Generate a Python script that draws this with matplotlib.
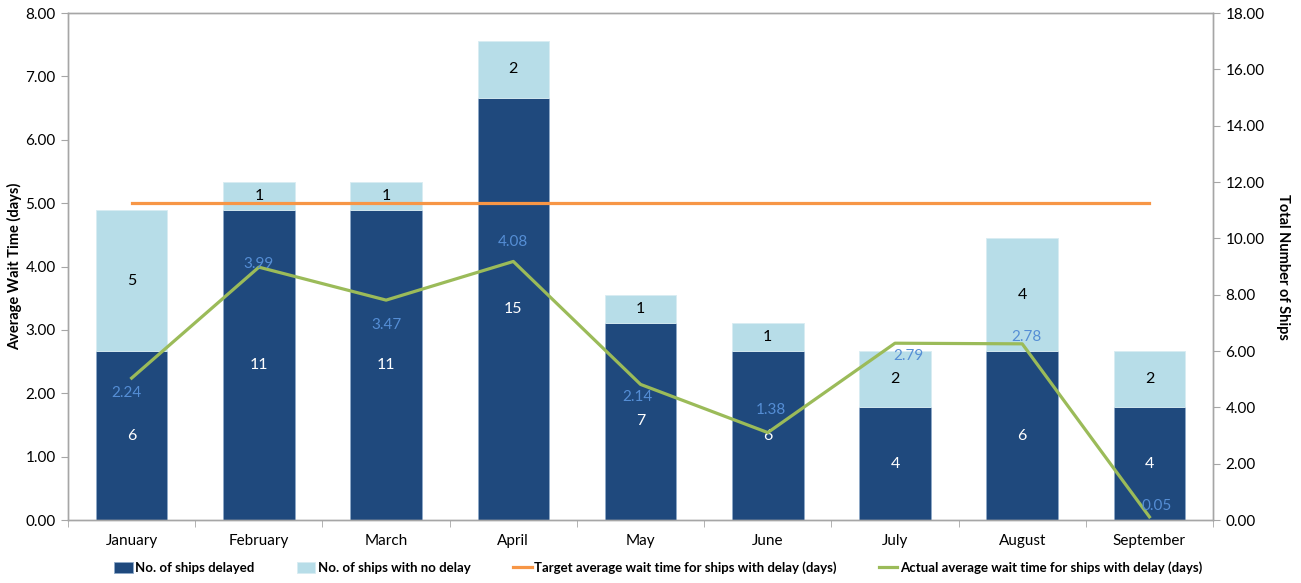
import numpy as np
import matplotlib.pyplot as plt

plt.rcParams['font.family'] = ['Lato', 'DejaVu Sans']

months = ['January', 'February', 'March', 'April', 'May', 'June', 'July',
          'August', 'September']
ships_delayed = [6, 11, 11, 15, 7, 6, 4, 6, 4]
ships_no_delay = [5, 1, 1, 2, 1, 1, 2, 4, 2]
actual_wait = [2.24, 3.99, 3.47, 4.08, 2.14, 1.38, 2.79, 2.78, 0.05]
target_wait = [5.0] * len(months)

# offsets (points) for the actual wait time labels
label_offsets = [(-4, -11), (0, 2), (0, -18), (0, 14), (-2, -9), (2, 16),
                 (10, -9), (3, 5), (5, 8)]

dark_blue = '#1f497d'
light_blue = '#b7dde8'
orange = '#f79646'
green = '#9bbb59'
label_blue = '#558ed5'
spine_grey = '#a6a6a6'

fig = plt.figure(figsize=(13.01, 5.83), dpi=100)
ax_bar = fig.add_axes([0.0523, 0.108, 0.8801, 0.8697])
ax_line = ax_bar.twinx()

x = np.arange(len(months))
width = 0.5625

b1 = ax_bar.bar(x, ships_delayed, width, color=dark_blue, edgecolor='#8eaac8',
                linewidth=0.6, label='No. of ships delayed')
b2 = ax_bar.bar(x, ships_no_delay, width, bottom=ships_delayed, color=light_blue,
                edgecolor='#d8ecf2', linewidth=0.6, label='No. of ships with no delay')
ax_bar.bar_label(b1, label_type='center', color='white', fontsize=11.5)
ax_bar.bar_label(b2, label_type='center', color='black', fontsize=11.5)

l1, = ax_line.plot(x, target_wait, color=orange, linewidth=2.3,
                   label='Target average wait time for ships with delay (days)')
l2, = ax_line.plot(x, actual_wait, color=green, linewidth=2.3,
                   label='Actual average wait time for ships with delay (days)')
for xi, v, off in zip(x, actual_wait, label_offsets):
    ax_line.annotate(f'{v:.2f}', (xi, v), xytext=off, textcoords='offset points',
                     ha='center', va='center', color=label_blue, fontsize=11)

# axes: bars on the right scale, lines on the left scale
ax_bar.set_xlim(-0.5, len(months) - 0.5)
ax_bar.set_ylim(0, 18)
ax_bar.set_yticks(np.arange(0, 19, 2))
ax_bar.set_yticklabels([f'{v:.2f}' for v in np.arange(0, 19, 2)])
ax_bar.yaxis.tick_right()
ax_bar.yaxis.set_label_position('right')
ax_bar.set_ylabel('Total Number of Ships', rotation=270, labelpad=18,
                  fontsize=10.5, fontweight='bold')

ax_line.set_ylim(0, 8)
ax_line.set_yticks(np.arange(0, 9, 1))
ax_line.set_yticklabels([f'{v:.2f}' for v in np.arange(0, 9, 1)])
ax_line.yaxis.tick_left()
ax_line.yaxis.set_label_position('left')
ax_line.set_ylabel('Average Wait Time (days)', labelpad=2,
                   fontsize=10.5, fontweight='bold')

ax_bar.set_xticks(x)
ax_bar.set_xticklabels(months)
ax_bar.set_xticks(np.arange(-0.5, len(months)), minor=True)
ax_bar.tick_params(axis='x', which='major', length=0, pad=10, labelsize=11)
ax_bar.tick_params(axis='x', which='minor', length=5, color=spine_grey)

for a in (ax_bar, ax_line):
    a.tick_params(axis='y', length=5, color=spine_grey, labelsize=11, pad=4)
    for s in a.spines.values():
        s.set_color(spine_grey)
        s.set_linewidth(1.0)

fig.legend(handles=[b1, b2, l1, l2], loc='lower center', ncol=4,
           bbox_to_anchor=(0.506, -0.005), frameon=False,
           prop={'weight': 'bold', 'size': 9.5}, handlelength=1.4,
           handleheight=0.9, handletextpad=0.2, columnspacing=3.2)

fig.savefig('out.png', dpi=100)
